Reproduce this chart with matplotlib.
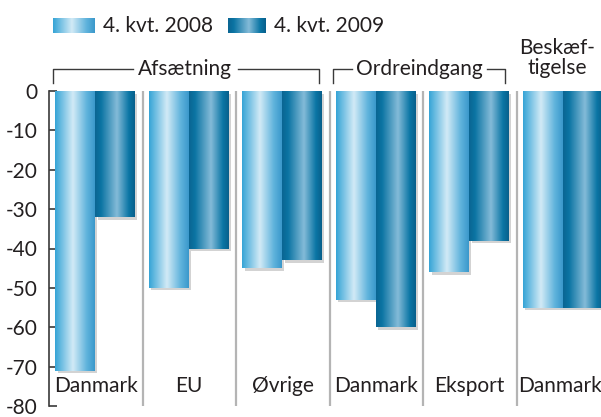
import numpy as np
import matplotlib
matplotlib.use("Agg")
import matplotlib.pyplot as plt
from matplotlib import font_manager
from matplotlib.patches import Rectangle
from matplotlib.lines import Line2D
import matplotlib.transforms as mtransforms

# ---- data ----
categories = ["Danmark", "EU", "Øvrige", "Danmark", "Eksport", "Danmark"]
series_2008 = [-71, -50, -45, -53, -46, -55]
series_2009 = [-32, -40, -43, -60, -38, -55]
series_names = ["4. kvt. 2008", "4. kvt. 2009"]
yticks = [0, -10, -20, -30, -40, -50, -60, -70, -80]
groups = [("Afsætning", 0, 3), ("Ordreindgang", 3, 5)]
group3_label = "Beskæf-\ntigelse"

# ---- font ----
avail = {f.name for f in font_manager.fontManager.ttflist}
fam = None
for cand in ["Liberation Sans Narrow", "Lato", "Open Sans", "DejaVu Sans"]:
    if cand in avail:
        fam = cand
        break
plt.rcParams["font.family"] = [fam, "DejaVu Sans"]
TXT = "#231f20"
FS = 15

W, H = 601, 417
fig = plt.figure(figsize=(W / 100, H / 100), dpi=100)

def fx(px):
    return px / W

def fy(py):
    return 1 - py / H

# axes: x from 49 px, group width 93.5 px, y0 at 91 px, -80 at 406 px
left_px, top_px, bot_px, gw = 49, 91, 406, 93.5
ax = fig.add_axes([fx(left_px), fy(bot_px), 6 * gw / W, (bot_px - top_px) / H])
ax.set_xlim(0, 6)
ax.set_ylim(-80, 0)

def grad_cmap(stops):
    pos = [s[0] for s in stops]
    cols = [matplotlib.colors.to_rgb(s[1]) for s in stops]
    xs = np.linspace(0, 1, 200)
    arr = np.zeros((1, 200, 3))
    for c in range(3):
        arr[0, :, c] = np.interp(xs, pos, [col[c] for col in cols])
    return arr

light = grad_cmap([(0, "#35a4d6"), (0.45, "#d2eaf6"), (0.8, "#5fb3dc"), (1, "#3a98cb")])
dark = grad_cmap([(0, "#0a6592"), (0.15, "#0b74a3"), (0.55, "#84bbd8"), (0.85, "#0b76a5"), (1, "#085f8b")])

bw = 0.425
x = np.arange(len(categories))
b1 = ax.bar(x + 0.278, series_2008, width=bw, color="none", edgecolor="none", zorder=3)
b2 = ax.bar(x + 0.706, series_2009, width=bw, color="none", edgecolor="none", zorder=3)

shadow_tr = ax.transData + mtransforms.ScaledTranslation(2.5 / 100, -2.5 / 100, fig.dpi_scale_trans)
for bars, img in [(b1, light), (b2, dark)]:
    for p in bars:
        x0, y0, w, h = p.get_x(), p.get_y(), p.get_width(), p.get_height()
        sh = Rectangle((x0, y0), w, h, transform=shadow_tr, facecolor="#a8a8a8",
                       alpha=0.5, edgecolor="none", zorder=2)
        ax.add_patch(sh)
        im = ax.imshow(img, extent=[x0, x0 + w, y0 + h, y0], aspect="auto",
                       interpolation="bilinear", zorder=4)
        im.set_clip_path(p)

ax.set_xlim(0, 6)
ax.set_ylim(-80, 0)

# separators
for s in range(1, 6):
    ax.plot([s, s], [-80, 0], color="#b4b4b4", lw=1.6, zorder=1, solid_capstyle="butt")

# axis styling
for sp in ["top", "right", "bottom"]:
    ax.spines[sp].set_visible(False)
ax.spines["left"].set_color("#3a3a3a")
ax.spines["left"].set_linewidth(1.2)
ax.set_xticks([])
ax.set_yticks(yticks)
ax.set_yticklabels([str(t) for t in yticks])
ax.tick_params(axis="y", direction="in", length=6, width=1.2, color="#3a3a3a",
               labelsize=FS, labelcolor=TXT, pad=8)
ax.patch.set_alpha(0)

# category labels
for i, c in enumerate(categories):
    xi = i + 0.5 if i < 5 else i + 0.46
    ax.text(xi, -74.8, c, ha="center", va="center", fontsize=FS, color=TXT, zorder=5)

# group brackets (figure pixel coords)
line_kw = dict(color="#3a3a3a", lw=1.0, transform=fig.transFigure)
def bracket(x0, x1, t0, t1, ytop=69, ybot=83):
    fig.add_artist(Line2D([fx(x0), fx(x0), fx(t0)], [fy(ybot), fy(ytop), fy(ytop)], **line_kw))
    fig.add_artist(Line2D([fx(t1), fx(x1), fx(x1)], [fy(ytop), fy(ytop), fy(ybot)], **line_kw))

bracket(53, 319, 133, 238)
fig.text(fx(185), fy(69), groups[0][0], ha="center", va="center", fontsize=FS, color=TXT)
bracket(333, 505, 352, 487)
fig.text(fx(419), fy(69), groups[1][0], ha="center", va="center", fontsize=FS, color=TXT)
fig.text(fx(557), fy(58), group3_label, ha="center", va="center", fontsize=FS, color=TXT,
         linespacing=0.95)

# legend
def swatch(x0, x1, img):
    sax = fig.add_axes([fx(x0), fy(33), fx(x1 - x0), (33 - 18) / H])
    sax.imshow(img, aspect="auto", interpolation="bilinear")
    sax.axis("off")

swatch(53, 95, light)
fig.text(fx(103), fy(26), series_names[0], ha="left", va="center", fontsize=FS, color=TXT)
swatch(228, 266, dark)
fig.text(fx(274), fy(26), series_names[1], ha="left", va="center", fontsize=FS, color=TXT)

fig.savefig("out.png", dpi=100)
